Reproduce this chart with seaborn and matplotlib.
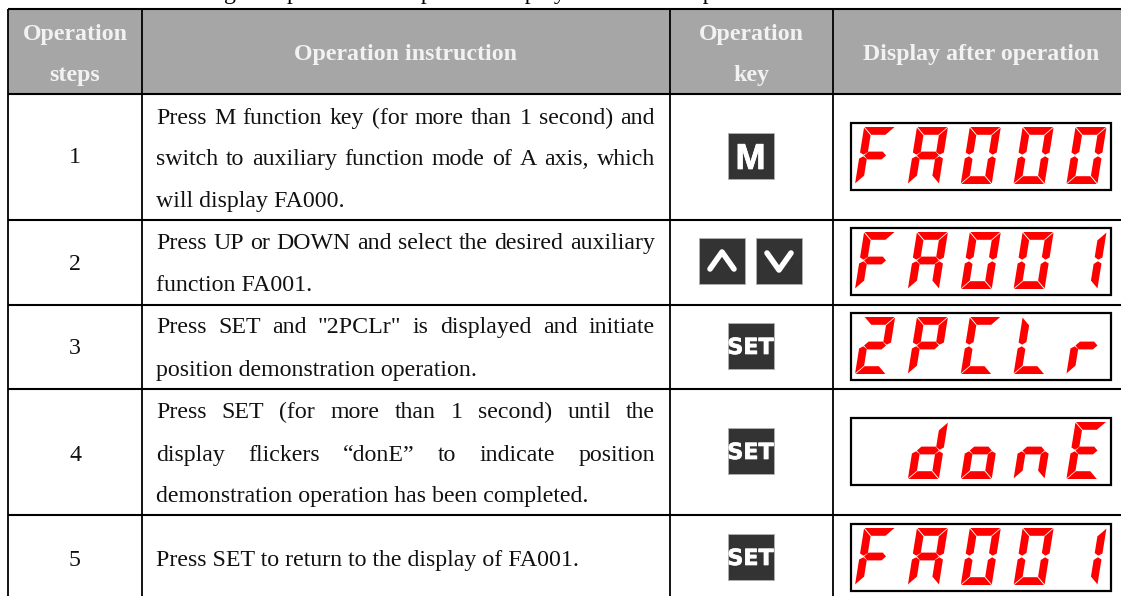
import matplotlib
matplotlib.use("Agg")
import matplotlib.pyplot as plt
import matplotlib.patheffects as pe
from matplotlib.colors import ListedColormap
from matplotlib.patches import Polygon, Rectangle
import numpy as np
import seaborn as sns

# table content
header_lines = [["Operation", "steps"], ["Operation instruction"], ["Operation", "key"], ["Display after operation"]]
steps = ["1", "2", "3", "4", "5"]
instructions = [
    ["Press M function key (for more than 1 second) and",
     "switch to auxiliary function mode of A axis, which",
     "will display FA000."],
    ["Press UP or DOWN and select the desired auxiliary",
     "function FA001."],
    ["Press SET and \"2PCLr\" is displayed and initiate",
     "position demonstration operation."],
    ["Press SET (for more than 1 second) until the",
     "display flickers \u201cdonE\u201d to indicate position",
     "demonstration operation has been completed."],
    ["Press SET to return to the display of FA001."],
]
keys = [["M"], ["UP", "DOWN"], ["SET"], ["SET"], ["SET"]]
displays = ["FA000", "FA001", "2PCLr", " donE", "FA001"]
caption_words = ["The following", "position", "operation", "display", "example"]

# layout, in pixels of the page
W, H = 1121, 596
col_x = [8, 141.5, 670, 833]
col_mid = [75, 406, 751, 981]
row_y = [9, 94, 220, 305, 389, 515]
text_left, text_right = 156, 655
line_base = [[124, 165, 207], [249, 291], [333, 376], [418, 461, 502], [566]]
step_base = [163, 270, 354, 461, 566]
key_top = [133, 238, 323, 428, 534]
display_top = [123, 228, 313, 418, 524]
caption_x = [100, 287, 409, 497, 651]

SEGMENTS = {"F": "afge", "A": "abcefg", "0": "abcdef", "1": "bc", "2": "abged", "P": "abfge",
            "C": "afed", "L": "fed", "r": "ge", "d": "bcdeg", "o": "cdeg", "n": "ceg", "E": "afged", " ": ""}
DW, DH, DT, SHEAR = 31, 57, 7.8, 0.16


def segment_shape(name):
    t = DT
    m = DH / 2
    shapes = {
        "a": [(0.6, DH), (DW - 0.6, DH), (DW - t - 0.6, DH - t), (t + 0.6, DH - t)],
        "d": [(0.6, 0), (DW - 0.6, 0), (DW - t - 0.6, t), (t + 0.6, t)],
        "f": [(0, DH - 0.6), (t, DH - t - 0.6), (t, m + 3.5), (t / 2, m + 0.8), (0, m + 3)],
        "e": [(0, 0.6), (t, t + 0.6), (t, m - 3.5), (t / 2, m - 0.8), (0, m - 3)],
        "b": [(DW, DH - 0.6), (DW - t, DH - t - 0.6), (DW - t, m + 3.5), (DW - t / 2, m + 0.8), (DW, m + 3)],
        "c": [(DW, 0.6), (DW - t, t + 0.6), (DW - t, m - 3.5), (DW - t / 2, m - 0.8), (DW, m - 3)],
        "g": [(t / 2 + 0.6, m), (t + 0.6, m + t / 2), (DW - t - 0.6, m + t / 2), (DW - t / 2 - 0.6, m),
              (DW - t - 0.6, m - t / 2), (t + 0.6, m - t / 2)],
    }
    return shapes[name]


def draw_display(ax, text, top):
    left = 851
    ax.add_patch(Rectangle((left, top), 260, 67, fc="white", ec="black", lw=1.6, zorder=3))
    for i, ch in enumerate(text):
        x0 = left + 4 + i * 52.85
        y0 = top + 61
        for seg in SEGMENTS[ch]:
            pts = [(x0 + u + SHEAR * v, y0 - v) for u, v in segment_shape(seg)]
            ax.add_patch(Polygon(pts, fc="#ff0000", ec="none", zorder=4))


def draw_key(ax, name, left, top):
    ax.add_patch(Rectangle((left, top), 46, 46, fc="#333333", ec="#b0b0b0", lw=0.6, zorder=3))
    cx, cy = left + 23, top + 23
    thick = [pe.withStroke(linewidth=0.5, foreground="white")]
    if name == "SET":
        ax.text(cx, cy + 8, name, color="white", fontsize=16, fontweight="bold", family="DejaVu Sans",
                ha="center", va="baseline", zorder=4, path_effects=thick)
    elif name == "M":
        ax.text(cx, cy + 13, name, color="white", fontsize=26, fontweight="bold", family="Liberation Sans",
                ha="center", va="baseline", zorder=4, path_effects=thick)
    else:
        d = -1 if name == "UP" else 1
        ax.plot([cx - 12, cx, cx + 12], [cy - 8 * d, cy + 9 * d, cy - 8 * d], color="white", lw=4,
                solid_capstyle="round", solid_joinstyle="round", zorder=4)


def draw_line(ax, fig, text, base, justify):
    if not justify:
        ax.text(text_left, base, text, ha="left", va="baseline", color="#111111")
        return
    words = text.split(" ")
    renderer = fig.canvas.get_renderer()
    items = [ax.text(text_left, base, w, ha="left", va="baseline", color="#111111") for w in words]
    widths = [t.get_window_extent(renderer).width for t in items]
    gap = (text_right - text_left - sum(widths)) / (len(words) - 1)
    x = text_left
    for t, w in zip(items, widths):
        t.set_x(x)
        x += w + gap


sns.set_theme(style="white")
plt.rcParams["font.family"] = ["Liberation Serif", "DejaVu Sans"]
plt.rcParams["font.size"] = 17.2

fig = plt.figure(figsize=(W / 100, H / 100), dpi=100)
ax = fig.add_axes([0, 0, 1, 1])

# page background as a heatmap, one cell per pixel, so data units are pixels
page = np.zeros((H, W))
page[row_y[0]:row_y[1], col_x[0]:] = 1
sns.heatmap(page, ax=ax, cmap=ListedColormap(["white", "#a6a6a6"]), cbar=False,
            xticklabels=False, yticklabels=False, vmin=0, vmax=1)
ax.set_xlim(0, W)
ax.set_ylim(H, 0)

# caption line above the table, the page crops it to its descenders
for word, x in zip(caption_words, caption_x):
    ax.text(x, -1.5, word, ha="left", va="baseline", color="black", clip_on=False)

ax.hlines(row_y, col_x[0], W, color="black", lw=1.5, zorder=2)
ax.vlines(col_x, row_y[0], H, color="black", lw=1.3, zorder=2)

# header
for lines, mid in zip(header_lines, col_mid):
    bases = [60] if len(lines) == 1 else [40, 81]
    for line, base in zip(lines, bases):
        ax.text(mid, base, line, ha="center", va="baseline", color="#f2f2f2", fontweight="bold")

# body rows
for i in range(len(steps)):
    ax.text(col_mid[0], step_base[i], steps[i], ha="center", va="baseline", color="#111111")
    row_lines = instructions[i]
    for j, line in enumerate(row_lines):
        draw_line(ax, fig, line, line_base[i][j], j < len(row_lines) - 1)
    if len(keys[i]) == 2:
        draw_key(ax, keys[i][0], 699, key_top[i])
        draw_key(ax, keys[i][1], 756, key_top[i])
    else:
        draw_key(ax, keys[i][0], 727.5, key_top[i])
    draw_display(ax, displays[i], display_top[i])

fig.savefig("out.png", dpi=100)
